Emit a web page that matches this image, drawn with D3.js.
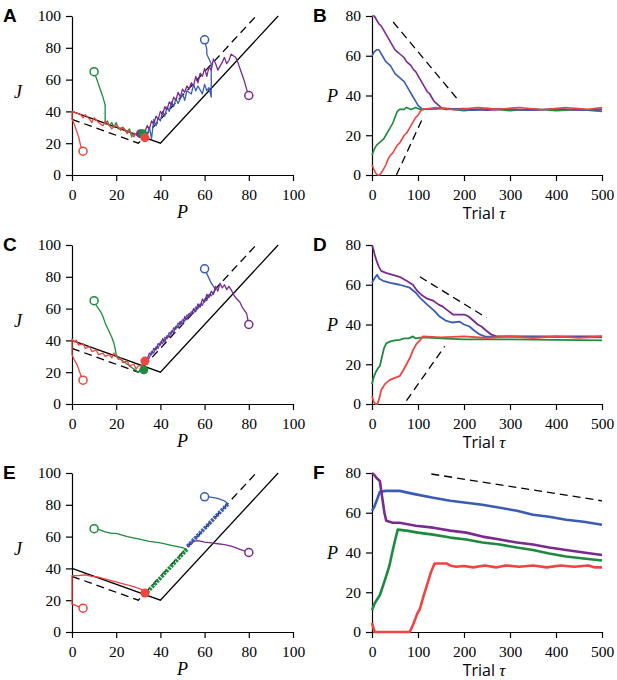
<!DOCTYPE html>
<html>
<head>
<meta charset="utf-8">
<script src="https://cdn.jsdelivr.net/npm/d3@7"></script>
<style>
  body { margin: 0; background: #fff; }
</style>
</head>
<body>
<div id="chart"></div>
<script>
// colours of the four runs
const colors = { red: '#ee4540', green: '#1f8a3e', blue: '#3a5cb5', purple: '#7a2b8e' }
const serif = "'Liberation Serif', 'Times New Roman', serif"
const sans = "'Open Sans', 'Liberation Sans', Arial, sans-serif"

// phase-plane reference lines (P, J)
const vSolid = [[0, 40], [40, 20], [93.3, 100]]
const vDashed = [[0, 35], [30, 20], [83.3, 100]]

// start points (open circles)
const starts = { red: [5, 15], green: [10, 65], blue: [60, 85], purple: [80, 50] }

// panel A trajectories (P, J)
const aRed = [[5,15],[4,18],[3,24],[2,28],[1,32],[0,35],[0,40],[2,39],[4,38],[5,36],[6,38],[8,35],[9,33],[10,36],[12,33],[14,31],[15,34],[17,31],[18,29],[20,32],[22,28],[23,30],[25,26],[26,28],[28,24],[29,26],[31,24],[33,23]]
const aGreen = [[10,65],[11,61],[12,57],[13,53],[14,49],[15,44],[15,32],[16,34],[17,31],[18,33],[19,30],[20,33],[21,29],[23,30],[25,27],[26,29],[27,24],[28,26],[30,25],[32,26]]
const aBlue = [[60,85],[61,79],[61,76],[62,73],[63,70],[63,49],[62,55],[61,53],[60,57],[59,51],[57,56],[56,53],[55,57],[54,51],[52,53],[51,47],[50,51],[48,45],[47,48],[46,43],[45,46],[44,40],[43,43],[42,37],[41,40],[40,34],[39,36],[38,31],[37,35],[36,23],[35,30],[34,25],[32,26]]
const aPurple = [[80,50],[79,54],[78,59],[77,63],[76,67],[75,71],[74,74],[72,76],[71,72],[70,70],[69,74],[68,71],[66,66],[65,70],[64,73],[63,66],[62,68],[61,62],[60,67],[59,62],[58,64],[57,58],[56,62],[55,56],[54,58],[53,54],[52,56],[51,52],[50,54],[49,49],[48,52],[47,47],[46,49],[45,44],[44,46],[43,41],[42,43],[41,38],[40,40],[39,35],[38,37],[37,32],[36,34],[35,29],[34,31],[33,27],[32,28],[31,26]]
const aEnds = [['purple', [31, 26]], ['green', [32, 26]], ['red', [33, 23.5]]]

// panel C trajectories (P, J)
const cRed = [[5,15],[4,18],[2.5,24],[1,28],[0,31],[0,41],[1,39],[2,40],[3,37],[5,38],[6,35],[8,36],[9,33],[11,34],[12,31],[14,32],[15,30],[17,31],[18,29],[19,32],[21,28],[22,29],[23,26],[25,27],[26,24],[28,25],[29,22],[30,24],[32,24],[33,27]]
const cGreen = [[10,65],[11,62],[13,58],[14,55],[15,51],[16,48],[17,45],[18,42],[19,38],[19.5,35],[20,31],[21,29],[23,27],[25,25],[27,23],[28,22],[29,21],[30,20],[31,21],[32,20.5],[33,21.5]]
const cBlue = [[60,85],[61,82],[62,79],[63,76],[64,74],[65,72],[64,70],[63,68],[62,69],[61,65],[60,66],[59,62],[58,63],[57,60],[56,61],[55,57],[54,58],[53,55],[52,56],[51,52],[50,53],[49,50],[48,51],[47,47],[46,48],[45,44],[44,45],[43,41],[42,42],[41,38],[40,39],[39,35],[38,36],[37,32],[36,33],[35,29],[34,28],[33,26]]
const cPurple = [[80,50],[79,57],[77,61],[76,64],[74,67],[73,69],[72,72],[71,74],[70,72],[69,75],[68,73],[67,76],[66,71],[65,74],[64,69],[63,71],[62,67],[61,69],[60,64],[59,66],[58,61],[57,63],[56,58],[55,60],[54,56],[53,57],[52,53],[51,55],[50,50],[49,52],[48,48],[47,49],[46,45],[45,46],[44,42],[43,43],[42,39],[41,41],[40,37],[39,38],[38,34],[37,35],[36,31],[35,32],[34,28],[33,27]]
const cEnds = [['green', [32.5, 21.5]], ['red', [33, 27]]]

// panel E trajectories (P, J); the diagonal parts are drawn heavier
const eRed = [[5,15],[3,16],[1,17],[0,17.5],[0,35.5],[3,35.5],[6,36],[9,35],[12,34.5],[16,33],[20,31.5],[24,30],[28,28.5],[31,27],[33,26],[33,24.5]]
const eGreen = [[10,65],[12,64.5],[15,63],[18,62],[20,62],[25,60],[30,58.5],[35,57],[40,56],[45,54.5],[50,53],[52,52]]
const eGreenDiag = [[52,52],[34,25]]
const eBlue = [[60,85],[62,85],[64,84.5],[66,84],[68,83],[69.5,82],[70.5,80.5]]
const eBlueDiag = [[70.5,80.5],[52,53.5]]
const ePurple = [[80,50],[78,51],[76,52],[74,53],[72,54],[69,55],[66,55.5],[63,56],[60,56.5],[57,57.5],[55,57],[53,55.5],[52,54]]
const eEnds = [['red', [33, 24.5]]]

// panel B time courses (trial, P)
const bPurple = [[0,80],[5,80],[10,78],[15,76],[20,75],[25,73],[30,71],[35,69],[40,67],[45,65],[50,63],[55,62],[60,61],[65,60],[70,59],[75,57],[80,56],[85,55],[90,53],[95,52],[100,50],[105,48],[110,46],[115,44],[120,42],[125,41],[130,39],[135,37],[140,36],[145,35],[150,34],[160,33],[200,33.4],[250,32.6],[300,33.2],[350,32.6],[400,33.3],[450,32.7],[500,33]]
const bBlue = [[0,60],[5,62],[10,63],[15,63],[20,61],[25,59],[30,57],[35,56],[40,55],[45,53],[50,51],[55,50],[60,49],[65,48],[70,47],[75,45],[80,43],[85,41],[90,39],[95,37],[100,35],[105,34],[110,33],[160,33.5],[220,32.6],[280,33.3],[340,32.6],[400,33.2],[460,32.7],[500,33]]
const bGreen = [[0,10],[5,13],[10,15],[15,16],[20,17],[25,18],[30,20],[35,22],[40,24],[45,26],[50,29],[55,32],[60,33],[70,33],[75,34],[85,33],[95,34],[105,33],[150,33.6],[200,32.4],[250,33.5],[300,32.4],[350,33.3],[400,32.3],[450,33],[500,32]]
const bRed = [[0,5],[4,3],[8,1],[12,0],[16,0],[20,1],[25,3],[30,5],[35,8],[40,10],[45,11],[50,13],[55,15],[60,16],[65,18],[70,20],[75,21],[80,23],[85,25],[90,27],[95,29],[100,30],[105,32],[110,33],[140,34],[180,32.8],[230,34],[270,33],[320,34],[370,32.8],[420,34],[470,33],[500,34]]
const bDashed = [[[46,77],[190,37]], [[53,0],[111,29]]]

// panel D time courses (trial, P)
const dPurple = [[0,80],[3,78],[6,75],[10,72],[15,69],[20,67],[30,66],[45,65],[60,64],[75,62],[89,60],[98,57],[107,55],[120,53],[133,52],[145,50],[154,49],[165,47],[176,45],[190,45],[201,45],[210,44],[220,42],[230,40],[238,39],[248,37],[259,35],[270,34],[500,34]]
const dBlue = [[0,61],[5,63],[11,65],[16,63],[24,62],[40,61],[60,60],[82,58.5],[95,56],[104,53.5],[120,50],[135,47],[147,44],[160,42],[175,41],[190,41.5],[200,40],[212,39],[222,37],[234,35],[245,34],[500,33.5]]
const dGreen = [[0,10],[3,13],[8,16],[13,18],[17,19],[22,24],[26,28],[31,30.5],[40,31.5],[50,32],[60,32.3],[70,33],[80,33],[89,34],[95,33],[110,33.5],[150,33],[200,32.5],[300,32.5],[400,32.3],[500,32]]
const dRed = [[0,4],[4,1],[8,0],[12,0],[16,3],[20,7],[28,10],[38,12],[48,13],[60,14],[68,17],[75,20],[82,23],[89,27],[96,30],[104,32],[111,34],[150,33.5],[200,34],[250,33.2],[300,34],[350,33.2],[400,34],[450,33.3],[500,34]]
const dDashed = [[[104,64],[249,43.4]], [[75,1.7],[158,29]]]

// panel F time courses (trial, P)
const fBlue = [[0,61],[5,63],[10,66],[17,70.5],[30,71],[60,71],[90,69.5],[133,67.5],[170,66],[205,65],[240,64],[278,62.5],[315,61],[350,59],[385,58],[422,56.5],[460,55.5],[500,54]]
const fPurple = [[0,80],[5,79],[10,77.5],[17,76],[22,68],[27,60],[31,56],[45,55],[60,55],[95,53.5],[133,52.5],[170,51],[205,50],[240,48],[278,46.5],[315,45],[350,44],[385,42.5],[422,41.3],[460,40],[500,38.7]]
const fGreen = [[0,11],[5,14],[10,16],[17,18.5],[25,24],[32,29],[38,33.5],[44,40],[50,46],[56,51.5],[75,51],[100,50],[133,49],[170,47.5],[205,46.5],[240,45],[278,44],[315,42.5],[350,41.3],[385,39.5],[422,38],[460,37],[500,36]]
const fRed = [[0,4.6],[3,2],[6,0],[82,0],[90,4],[98,9],[104,11.5],[112,18],[120,24],[128,30],[136,34.5],[150,34.5],[162,34.5],[170,33.5],[183,32.8],[200,33.2],[220,32.5],[245,33.5],[270,32.5],[290,33.5],[320,32.8],[350,33.5],[380,32.5],[410,33.5],[440,32.8],[470,33.5],[485,32.5],[500,32.5]]
const fDashed = [[[129,79.5],[500,66]]]

const W = 617
const H = 680
const rows = [16, 245, 473]
const plotH = 159
const left = { x: 72, w: 221 }
const right = { x: 372, w: 230 }

const svg = d3.select('#chart').append('svg')
  .attr('width', W).attr('height', H)
  .attr('viewBox', [0, 0, W, H])

function axes(g, x, y, xTicks, yTicks) {
  g.append('g')
    .attr('transform', `translate(0,${plotH})`)
    .call(d3.axisBottom(x).tickValues(xTicks).tickSize(6).tickSizeOuter(0).tickPadding(8))
  g.append('g')
    .call(d3.axisLeft(y).tickValues(yTicks).tickSize(6).tickSizeOuter(0).tickPadding(5))
  g.selectAll('.domain, .tick line').attr('stroke', '#000').attr('stroke-width', 1.2)
  g.selectAll('.tick text')
    .attr('font-family', serif).attr('font-size', 15.5)
    .attr('fill', '#000')
}

function italic(g, x, y, s, anchor) {
  return g.append('text').attr('x', x).attr('y', y)
    .attr('font-family', serif).attr('font-style', 'italic').attr('font-size', 18)
    .attr('text-anchor', anchor || 'start').text(s)
}

function panelLabel(x, y, s) {
  svg.append('text').attr('x', x).attr('y', y)
    .attr('font-family', "'Liberation Sans', Arial, sans-serif")
    .attr('font-weight', 'bold').attr('font-size', 19).text(s)
}

function drawPhase(top, label, tracks, ends, diag) {
  const g = svg.append('g').attr('transform', `translate(${left.x},${top})`)
  const x = d3.scaleLinear().domain([0, 100]).range([0, left.w])
  const y = d3.scaleLinear().domain([0, 100]).range([plotH, 0])
  const line = d3.line().x(d => x(d[0])).y(d => y(d[1]))

  axes(g, x, y, [0, 20, 40, 60, 80, 100], [0, 20, 40, 60, 80, 100])

  g.append('path').attr('d', line(vSolid)).attr('fill', 'none')
    .attr('stroke', '#000').attr('stroke-width', 1.3)
  g.append('path').attr('d', line(vDashed)).attr('fill', 'none')
    .attr('stroke', '#000').attr('stroke-width', 1.3).attr('stroke-dasharray', '8,5')

  tracks.forEach(([c, pts]) => {
    g.append('path').attr('d', line(pts)).attr('fill', 'none')
      .attr('stroke', colors[c]).attr('stroke-width', 1.3).attr('stroke-linejoin', 'round')
  })
  ;(diag || []).forEach(([c, pts]) => {
    g.append('path').attr('d', line(pts)).attr('fill', 'none')
      .attr('stroke', colors[c]).attr('stroke-width', 4).attr('stroke-dasharray', '2.5,1')
  })

  Object.entries(starts).forEach(([c, p]) => {
    g.append('circle').attr('cx', x(p[0])).attr('cy', y(p[1])).attr('r', 4)
      .attr('fill', '#fff').attr('stroke', colors[c]).attr('stroke-width', 1.5)
  })
  ends.forEach(([c, p]) => {
    g.append('circle').attr('cx', x(p[0])).attr('cy', y(p[1])).attr('r', 4.5)
      .attr('fill', colors[c])
  })

  italic(g, -58, plotH * 0.48 + 6, 'J')
  italic(g, left.w / 2, plotH + 43, 'P', 'middle')
  panelLabel(3, top + 6, label)
}

function drawTrial(top, label, tracks, dashes, width) {
  const g = svg.append('g').attr('transform', `translate(${right.x},${top})`)
  const x = d3.scaleLinear().domain([0, 500]).range([0, right.w])
  const y = d3.scaleLinear().domain([0, 80]).range([plotH, 0])
  const line = d3.line().x(d => x(d[0])).y(d => y(d[1]))

  axes(g, x, y, [0, 100, 200, 300, 400, 500], [0, 20, 40, 60, 80])

  dashes.forEach(pts => {
    g.append('path').attr('d', line(pts)).attr('fill', 'none')
      .attr('stroke', '#000').attr('stroke-width', 1.3).attr('stroke-dasharray', '8,5')
  })
  tracks.forEach(([c, pts]) => {
    g.append('path').attr('d', line(pts)).attr('fill', 'none')
      .attr('stroke', colors[c]).attr('stroke-width', width).attr('stroke-linejoin', 'round')
  })

  italic(g, -45, y(40) + 6, 'P')
  const t = g.append('text').attr('text-anchor', 'middle')
    .attr('font-family', sans).attr('font-size', 16)
    .attr('x', right.w / 2 - 3).attr('y', plotH + 44)
  t.append('tspan').text('Trial ')
  t.append('tspan').attr('font-family', serif).attr('font-style', 'italic')
    .attr('font-size', 17).text('τ')
  panelLabel(313, top + 6, label)
}

drawPhase(rows[0], 'A',
  [['green', aGreen], ['red', aRed], ['blue', aBlue], ['purple', aPurple]], aEnds)
drawPhase(rows[1], 'C',
  [['green', cGreen], ['red', cRed], ['blue', cBlue], ['purple', cPurple]], cEnds)
drawPhase(rows[2], 'E',
  [['green', eGreen], ['red', eRed], ['blue', eBlue], ['purple', ePurple]], eEnds,
  [['green', eGreenDiag], ['blue', eBlueDiag]])

drawTrial(rows[0], 'B',
  [['green', bGreen], ['purple', bPurple], ['blue', bBlue], ['red', bRed]], bDashed, 1.6)
drawTrial(rows[1], 'D',
  [['green', dGreen], ['purple', dPurple], ['blue', dBlue], ['red', dRed]], dDashed, 1.8)
drawTrial(rows[2], 'F',
  [['blue', fBlue], ['purple', fPurple], ['green', fGreen], ['red', fRed]], fDashed, 2.6)
</script>
</body>
</html>
